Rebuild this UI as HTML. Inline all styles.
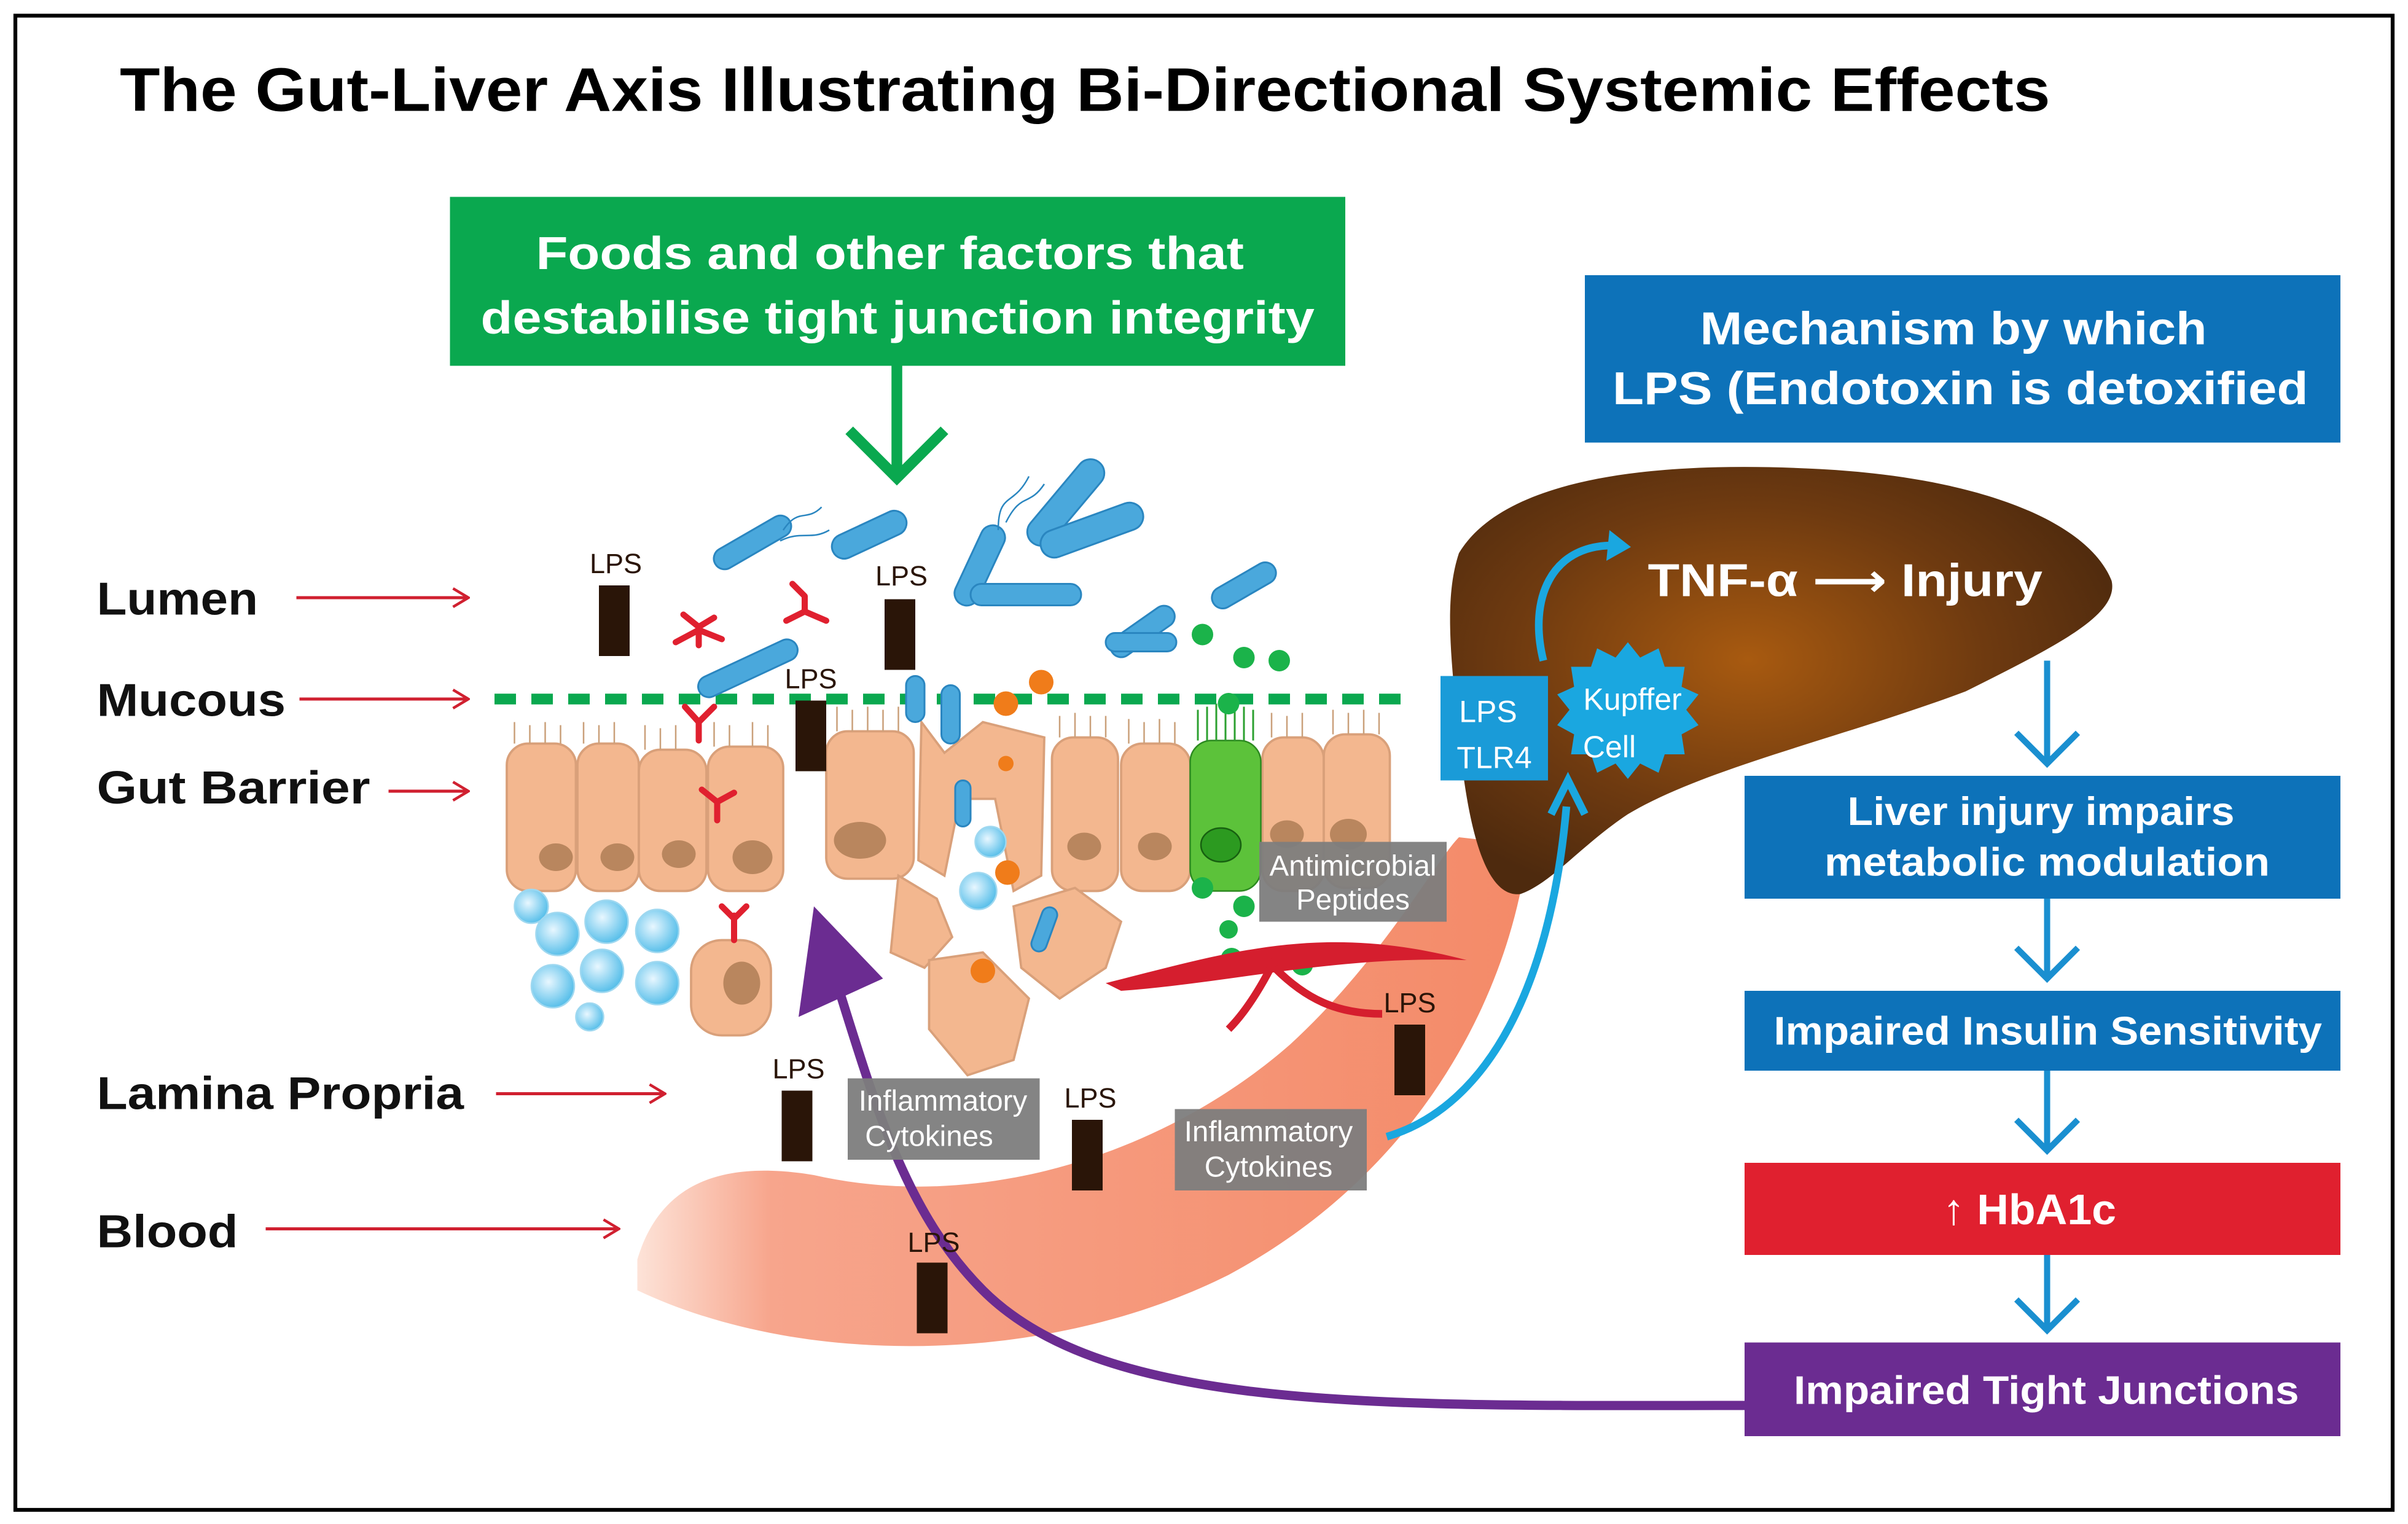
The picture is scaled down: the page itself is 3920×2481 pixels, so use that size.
<!DOCTYPE html>
<html><head><meta charset="utf-8"><style>
html,body{margin:0;padding:0;background:#fff;}
svg{display:block;}
text{font-family:"Liberation Sans","DejaVu Sans",sans-serif;}
</style></head><body>
<svg width="3920" height="2481" viewBox="0 0 1568 992" xmlns="http://www.w3.org/2000/svg">
<defs>
<radialGradient id="liv" cx="0.45" cy="0.45" r="0.6">
<stop offset="0" stop-color="#a85a10"/><stop offset="0.6" stop-color="#6e3a10"/><stop offset="1" stop-color="#4e2a0e"/>
</radialGradient>
<linearGradient id="bl" x1="0" y1="0" x2="1" y2="0">
<stop offset="0" stop-color="#fde3d8"/><stop offset="0.15" stop-color="#f7a58c"/><stop offset="1" stop-color="#f48a68"/>
</linearGradient>
<radialGradient id="bub" cx="0.4" cy="0.4" r="0.6"><stop offset="0" stop-color="#e8f7ff"/><stop offset="1" stop-color="#5bc0ea"/></radialGradient>
<marker id="ra" markerWidth="12" markerHeight="14" refX="11" refY="7" orient="auto" markerUnits="userSpaceOnUse"><path d="M1,1 L11,7 L1,13" fill="none" stroke="#d02030" stroke-width="1.8"/></marker>
</defs>
<rect x="10" y="10" width="1548" height="973" fill="#fff" stroke="#000" stroke-width="2.5"/>
<text x="78" y="72" font-size="40" font-weight="bold" fill="#000" textLength="1257" lengthAdjust="spacingAndGlyphs">The Gut-Liver Axis Illustrating Bi-Directional Systemic Effects</text>

<rect x="293" y="128" width="583" height="110" fill="#0aa84f"/>
<text x="349" y="175" font-size="30" font-weight="bold" fill="#fff" textLength="461" lengthAdjust="spacingAndGlyphs">Foods and other factors that</text>
<text x="313" y="217" font-size="30" font-weight="bold" fill="#fff" textLength="543" lengthAdjust="spacingAndGlyphs">destabilise tight junction integrity</text>
<path d="M584 238 V310 M553 280 L584 311 L615 280" fill="none" stroke="#0aa84f" stroke-width="7"/>

<rect x="1032" y="179" width="492" height="109" fill="#0d72b9"/>
<text x="1107" y="224" font-size="30" font-weight="bold" fill="#fff" textLength="330" lengthAdjust="spacingAndGlyphs">Mechanism by which</text>
<text x="1050" y="263" font-size="30" font-weight="bold" fill="#fff" textLength="453" lengthAdjust="spacingAndGlyphs">LPS (Endotoxin is detoxified</text>

<path d="M415 820 C430 770 470 755 530 765 C640 790 760 750 840 680 C900 625 935 560 950 545 L995 550 C985 640 930 760 800 830 C680 890 520 890 415 840 Z" fill="url(#bl)"/>

<path d="M950 360 C980 310 1080 300 1180 305 C1290 310 1360 340 1375 378 C1380 400 1340 420 1280 450 C1200 480 1110 500 1060 530 C1030 550 1010 575 990 582 C965 585 955 530 950 480 C945 430 940 390 950 360 Z" fill="url(#liv)"/>
<text x="1073" y="388" font-size="30" font-weight="bold" fill="#fff" textLength="257" lengthAdjust="spacingAndGlyphs">TNF-α ⟶ Injury</text>
<path d="M1005 430 C995 390 1010 355 1050 355" fill="none" stroke="#1aa7e0" stroke-width="5"/>
<path d="M1048 345 L1062 356 L1046 365 Z" fill="#1aa7e0"/>
<rect x="938" y="440" width="70" height="68" fill="#1a9bd8"/>
<text x="969" y="470" font-size="20" fill="#fff" text-anchor="middle">LPS</text>
<text x="973" y="500" font-size="20" fill="#fff" text-anchor="middle">TLR4</text>
<polygon fill="#1aa7e0" points="1060,418 1068,428 1080,422 1084,434 1097,434 1095,447 1106,452 1098,462 1106,472 1095,478 1097,491 1084,491 1080,503 1068,497 1060,507 1052,497 1040,503 1036,491 1023,491 1025,478 1014,472 1022,462 1014,452 1025,447 1023,434 1036,434 1040,422 1052,428"/>
<text x="1063" y="462" font-size="20" fill="#fff" text-anchor="middle">Kupffer</text>
<text x="1048" y="493" font-size="20" fill="#fff" text-anchor="middle">Cell</text>
<path d="M903 740 C970 720 1010 640 1020 525" fill="none" stroke="#1aa7e0" stroke-width="5"/>
<path d="M1010 530 L1021 508 L1032 530" fill="none" stroke="#1aa7e0" stroke-width="5"/>

<g stroke="#1a8fd0" stroke-width="4" fill="none">
<path d="M1333 430 V497 M1313 477 L1333 497 L1353 477"/>
<path d="M1333 585 V637 M1313 617 L1333 637 L1353 617"/>
<path d="M1333 697 V749 M1313 729 L1333 749 L1353 729"/>
<path d="M1333 817 V866 M1313 846 L1333 866 L1353 846"/>
</g>
<rect x="1136" y="505" width="388" height="80" fill="#0d72b9"/>
<text x="1203" y="537" font-size="26" font-weight="bold" fill="#fff" textLength="252" lengthAdjust="spacingAndGlyphs">Liver injury impairs</text>
<text x="1188" y="570" font-size="26" font-weight="bold" fill="#fff" textLength="290" lengthAdjust="spacingAndGlyphs">metabolic modulation</text>
<rect x="1136" y="645" width="388" height="52" fill="#0d72b9"/>
<text x="1155" y="680" font-size="26" font-weight="bold" fill="#fff" textLength="357" lengthAdjust="spacingAndGlyphs">Impaired Insulin Sensitivity</text>
<rect x="1136" y="757" width="388" height="60" fill="#e0202f"/>
<text x="1265" y="797" font-size="28" font-weight="bold" fill="#fff" textLength="113" lengthAdjust="spacingAndGlyphs">↑ HbA1c</text>
<rect x="1136" y="874" width="388" height="61" fill="#6b2c91"/>
<text x="1168" y="914" font-size="26" font-weight="bold" fill="#fff" textLength="329" lengthAdjust="spacingAndGlyphs">Impaired Tight Junctions</text>

<g font-size="30" font-weight="bold" fill="#111">
<text x="63" y="400" textLength="105" lengthAdjust="spacingAndGlyphs">Lumen</text>
<text x="63" y="466" textLength="123" lengthAdjust="spacingAndGlyphs">Mucous</text>
<text x="63" y="523" textLength="178" lengthAdjust="spacingAndGlyphs">Gut Barrier</text>
<text x="63" y="722" textLength="239" lengthAdjust="spacingAndGlyphs">Lamina Propria</text>
<text x="63" y="812" textLength="92" lengthAdjust="spacingAndGlyphs">Blood</text>
</g>
<g stroke="#d02030" stroke-width="2" marker-end="url(#ra)">
<line x1="193" y1="389" x2="305" y2="389"/>
<line x1="195" y1="455" x2="305" y2="455"/>
<line x1="253" y1="515" x2="305" y2="515"/>
<line x1="323" y1="712" x2="433" y2="712"/>
<line x1="173" y1="800" x2="403" y2="800"/>
</g>

<g stroke="#d9a07a" stroke-width="1.5" fill="#f3b78f">
<rect x="330" y="484" width="45" height="96" rx="14"/>
<rect x="376" y="484" width="40" height="96" rx="14"/>
<rect x="416" y="488" width="44" height="92" rx="14"/>
<rect x="461" y="486" width="49" height="94" rx="14"/>
<rect x="538" y="476" width="57" height="96" rx="14"/>
<path d="M600 470 L615 490 L640 470 L680 480 L678 570 L660 580 L648 520 L625 520 L615 570 L598 560 Z"/>
<rect x="685" y="480" width="43" height="100" rx="14"/>
<rect x="730" y="484" width="45" height="96" rx="14"/>
<rect x="822" y="480" width="40" height="100" rx="14"/>
<rect x="862" y="478" width="43" height="100" rx="14"/>
<rect x="450" y="612" width="52" height="62" rx="20"/>
<path d="M585 570 L610 585 L620 610 L602 630 L580 620 Z"/>
<path d="M660 590 L700 578 L730 600 L720 630 L690 650 L665 630 Z"/>
<path d="M605 625 L640 620 L670 650 L660 690 L630 700 L605 670 Z"/>
</g>
<rect x="775" y="482" width="46" height="98" rx="14" fill="#5cc23a" stroke="#2c8a20"/>
<ellipse cx="795" cy="550" rx="13" ry="11" fill="#2c9a20" stroke="#176010"/>
<g fill="#b9865e">
<ellipse cx="362" cy="558" rx="11" ry="9"/><ellipse cx="402" cy="558" rx="11" ry="9"/><ellipse cx="442" cy="556" rx="11" ry="9"/><ellipse cx="490" cy="558" rx="13" ry="11"/>
<ellipse cx="560" cy="547" rx="17" ry="12"/><ellipse cx="706" cy="551" rx="11" ry="9"/><ellipse cx="752" cy="551" rx="11" ry="9"/><ellipse cx="838" cy="543" rx="11" ry="9"/><ellipse cx="878" cy="543" rx="12" ry="10"/><ellipse cx="483" cy="640" rx="12" ry="14"/>
</g>
<g stroke="#caa07a" stroke-width="1">
<path d="M335 484 V470 M345 484 V472 M355 484 V470 M365 484 V472 M380 484 V470 M390 484 V472 M400 484 V470 M420 488 V472 M430 488 V474 M440 488 V472 M465 486 V470 M475 486 V472 M490 486 V470 M500 486 V472 M545 476 V460 M555 476 V462 M565 476 V460 M575 476 V462 M585 476 V460 M690 480 V466 M700 480 V464 M710 480 V466 M720 480 V466 M735 484 V468 M745 484 V470 M755 484 V468 M765 484 V470 M828 480 V464 M838 480 V466 M848 480 V464 M868 478 V462 M878 478 V464 M888 478 V462 M898 478 V464"/>
</g>
<g stroke="#2ca030" stroke-width="1.2"><path d="M780 482 V462 M786 482 V460 M792 482 V458 M798 482 V460 M804 482 V458 M810 482 V460 M816 482 V462"/></g>

<line x1="322" y1="455" x2="912" y2="455" stroke="#0aa84f" stroke-width="7" stroke-dasharray="14,10"/>

<g fill="url(#bub)" stroke="#9fd8f0">
<circle cx="346" cy="590" r="11"/><circle cx="363" cy="608" r="14"/><circle cx="395" cy="600" r="14"/><circle cx="428" cy="606" r="14"/><circle cx="360" cy="642" r="14"/><circle cx="392" cy="632" r="14"/><circle cx="428" cy="640" r="14"/><circle cx="384" cy="662" r="9"/>
<circle cx="637" cy="580" r="12"/><circle cx="645" cy="548" r="10"/>
</g>

<g fill="#4aa8dc" stroke="#2a86c0" stroke-width="1.2">
<rect x="462" y="346" width="56" height="14" rx="7" transform="rotate(-30 490 353)"/>
<rect x="540" y="340" width="52" height="16" rx="8" transform="rotate(-25 566 348)"/>
<rect x="610" y="360" width="56" height="16" rx="8" transform="rotate(-65 638 368)"/>
<rect x="660" y="318" width="68" height="18" rx="9" transform="rotate(-50 694 327)"/>
<rect x="676" y="336" width="70" height="18" rx="9" transform="rotate(-20 711 345)"/>
<rect x="632" y="380" width="72" height="14" rx="7"/>
<rect x="720" y="404" width="48" height="14" rx="7" transform="rotate(-35 744 411)"/>
<rect x="720" y="412" width="46" height="12" rx="6"/>
<rect x="787" y="374" width="46" height="14" rx="7" transform="rotate(-30 810 381)"/>
<rect x="452" y="428" width="70" height="14" rx="7" transform="rotate(-25 487 435)"/>
<rect x="590" y="440" width="12" height="30" rx="6"/>
<rect x="613" y="446" width="12" height="38" rx="6"/>
<rect x="622" y="508" width="10" height="30" rx="5"/>
<rect x="675" y="590" width="10" height="30" rx="5" transform="rotate(20 680 605)"/>
</g>
<g fill="none" stroke="#2a86c0" stroke-width="1"><path d="M510 345 C520 330 525 340 535 330 M508 352 C522 345 528 352 540 345 M650 345 C650 320 660 330 670 310 M655 340 C665 320 670 330 680 315"/></g>

<g stroke="#e0202f" stroke-width="4" fill="none" stroke-linecap="round">
<path d="M455 420 L455 408 M455 408 L445 400 M455 408 L465 402 M455 410 L440 418 M455 410 L470 416"/>
<path d="M524 398 L524 388 M524 398 L512 404 M524 398 L538 404 M524 388 L516 380"/>
<path d="M455 470 V482 M455 470 L446 460 M455 470 L465 460"/>
<path d="M467 522 V534 M467 522 L457 514 M467 522 L478 516"/>
<path d="M478 612 V596 M478 598 L470 590 M478 598 L486 590"/>
</g>
<g fill="#f07c1a"><circle cx="655" cy="458" r="8"/><circle cx="678" cy="444" r="8"/><circle cx="656" cy="568" r="8"/><circle cx="640" cy="632" r="8"/><circle cx="655" cy="497" r="5"/></g>
<g fill="#1bb34a"><circle cx="783" cy="413" r="7"/><circle cx="810" cy="428" r="7"/><circle cx="833" cy="430" r="7"/><circle cx="800" cy="458" r="7"/><circle cx="783" cy="578" r="7"/><circle cx="810" cy="590" r="7"/><circle cx="800" cy="605" r="6"/><circle cx="802" cy="624" r="7"/><circle cx="848" cy="628" r="7"/></g>
<path d="M720 640 C800 620 860 600 955 625 C870 622 800 640 730 645 Z" fill="#d51e2e"/>
<path d="M830 625 C820 645 810 660 800 670 M830 630 C850 650 870 660 900 660" stroke="#d51e2e" stroke-width="5" fill="none"/>

<rect x="820" y="548" width="122" height="52" fill="#7d7d7d" opacity="0.95"/>
<text x="881" y="570" font-size="19" fill="#fff" text-anchor="middle">Antimicrobial</text>
<text x="881" y="592" font-size="19" fill="#fff" text-anchor="middle">Peptides</text>

<path d="M1136 915 C900 915 720 920 640 840 C590 790 570 720 545 640" fill="none" stroke="#6b2c91" stroke-width="6"/>
<path d="M530 590 L520 662 L575 637 Z" fill="#6b2c91"/>

<rect x="552" y="702" width="125" height="53" fill="#7d7d7d" opacity="0.95"/>
<text x="614" y="723" font-size="19" fill="#fff" text-anchor="middle">Inflammatory</text>
<text x="605" y="746" font-size="19" fill="#fff" text-anchor="middle">Cytokines</text>
<rect x="765" y="722" width="125" height="53" fill="#7d7d7d" opacity="0.95"/>
<text x="826" y="743" font-size="19" fill="#fff" text-anchor="middle">Inflammatory</text>
<text x="826" y="766" font-size="19" fill="#fff" text-anchor="middle">Cytokines</text>

<g fill="#2a1508">
<rect x="390" y="381" width="20" height="46"/><rect x="576" y="390" width="20" height="46"/><rect x="518" y="456" width="20" height="46"/>
<rect x="908" y="667" width="20" height="46"/><rect x="509" y="710" width="20" height="46"/><rect x="698" y="729" width="20" height="46"/><rect x="597" y="822" width="20" height="46"/>
</g>
<g font-size="18" fill="#2a1508" text-anchor="middle">
<text x="401" y="373">LPS</text><text x="587" y="381">LPS</text><text x="528" y="448">LPS</text>
<text x="918" y="659">LPS</text><text x="520" y="702">LPS</text><text x="710" y="721">LPS</text><text x="608" y="815">LPS</text>
</g>
</svg>
</body></html>
